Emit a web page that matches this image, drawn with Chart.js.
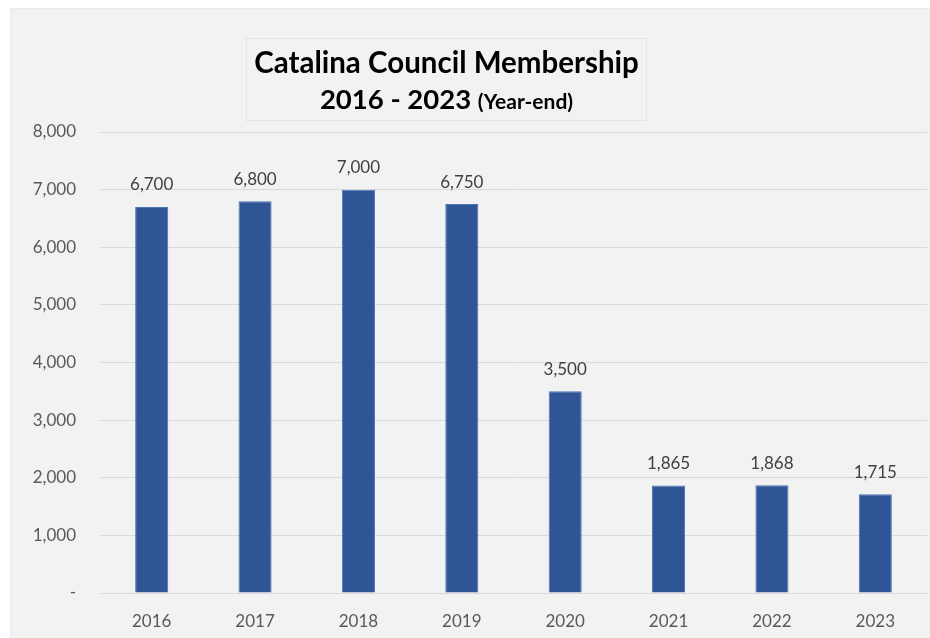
<!DOCTYPE html>
<html>
<head>
<meta charset="utf-8">
<script src="https://cdn.jsdelivr.net/npm/chart.js@4"></script>
<style>
  html, body { margin: 0; padding: 0; background: #ffffff; }
  #wrap {
    position: absolute; left: 10px; top: 8px; width: 920px; height: 630px;
    background: #f2f2f2; border-top: 1px solid #e4eaf0; border-left: 1px solid #e4eaf0;
    box-sizing: border-box;
  }
  #chart { position: absolute; left: 0; top: 0; }
  #title {
    position: absolute; left: 235px; top: 29px; width: 401px; height: 83px;
    border: 1px solid #dce5ee; box-sizing: border-box;
    font-family: Lato, "Noto Sans", sans-serif; font-weight: bold; color: #000;
    text-align: center; line-height: 37px; padding-top: 4px;
  }
  #title .l1 { font-size: 29.5px; }
  #title .l2 { font-size: 27.5px; }
  #title .small { font-size: 21px; }
</style>
</head>
<body>
<div id="wrap">
  <canvas id="chart" width="920" height="630"></canvas>
  <div id="title">
    <div class="l1">Catalina Council Membership</div>
    <div class="l2">2016 - 2023 <span class="small">(Year-end)</span></div>
  </div>
</div>
<script>
// Datos del gráfico
const years = ['2016', '2017', '2018', '2019', '2020', '2021', '2022', '2023'];
const members = [6700, 6800, 7000, 6750, 3500, 1865, 1868, 1715];
const yTicks = [0, 1000, 2000, 3000, 4000, 5000, 6000, 7000, 8000];

const fmt = v => v === 0 ? '-' : v.toLocaleString('en-US');
const FONT = 'Lato, "Noto Sans", sans-serif';

// Etiquetas de valor encima de cada barra
const valueLabels = {
  id: 'valueLabels',
  afterDatasetsDraw(chart) {
    const ctx = chart.ctx;
    const meta = chart.getDatasetMeta(0);
    ctx.save();
    ctx.font = '17px ' + FONT;
    ctx.fillStyle = '#404040';
    ctx.textAlign = 'center';
    ctx.textBaseline = 'middle';
    meta.data.forEach((bar, i) => {
      ctx.fillText(fmt(members[i]), bar.x, bar.y - 22);
    });
    ctx.restore();
  }
};

const ctx = document.getElementById('chart').getContext('2d');
new Chart(ctx, {
  type: 'bar',
  data: {
    labels: years,
    datasets: [{
      data: members,
      backgroundColor: '#2f5597',
      borderColor: '#4f74b5',
      borderWidth: 1,
      barPercentage: 0.64,
      categoryPercentage: 0.5,
    }],
  },
  options: {
    responsive: false,
    animation: false,
    devicePixelRatio: 1,
    layout: { padding: { top: 123, right: 4, bottom: 0, left: 0 } },
    plugins: {
      legend: { display: false },
      tooltip: { enabled: false },
    },
    scales: {
      x: {
        afterFit(scale) { scale.height = 46; },
        grid: { display: false, drawTicks: false },
        border: { display: false },
        ticks: {
          color: '#595959',
          padding: 18,
          font: { family: FONT, size: 17 },
        },
      },
      y: {
        min: 0,
        max: 8000,
        afterFit(scale) { scale.width = 89; },
        afterBuildTicks(scale) { scale.ticks = yTicks.map(v => ({ value: v })); },
        grid: { color: '#d9d9d9', lineWidth: 1, drawTicks: false },
        border: { display: false },
        ticks: {
          color: '#595959',
          padding: 24,
          font: { family: FONT, size: 17 },
          callback: v => fmt(v),
        },
      },
    },
  },
  plugins: [valueLabels],
});
</script>
</body>
</html>
